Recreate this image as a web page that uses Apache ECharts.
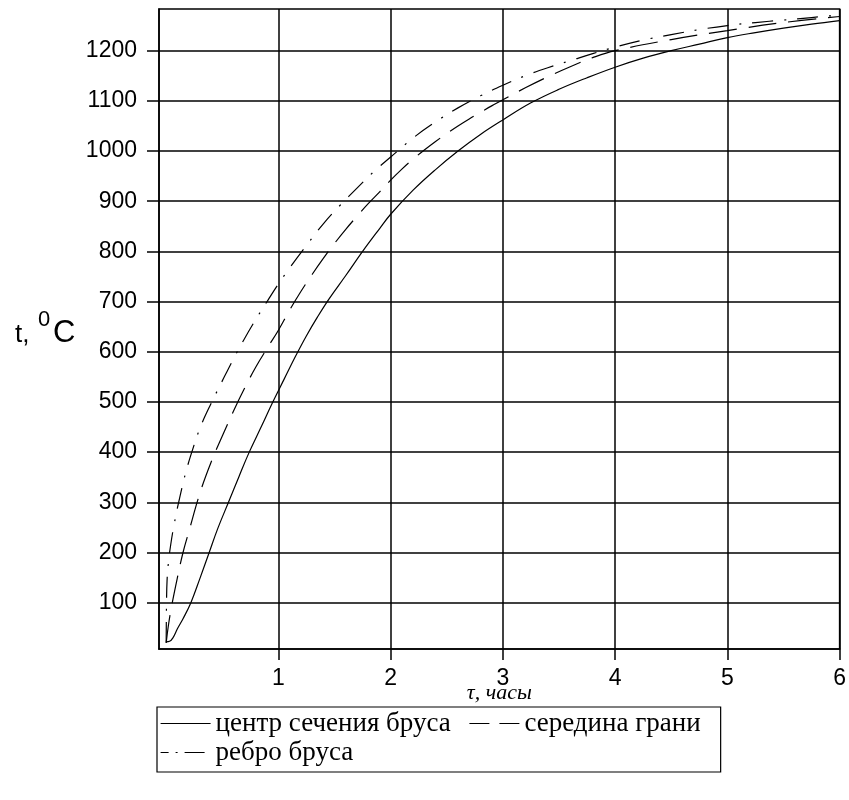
<!DOCTYPE html>
<html>
<head>
<meta charset="utf-8">
<script src="https://cdn.jsdelivr.net/npm/echarts@6/dist/echarts.min.js"></script>
<style>
html,body{margin:0;padding:0;background:#fff;}
#chart{width:849px;height:800px;}
</style>
</head>
<body>
<div id="chart"></div>
<script>
// ---- data ----
const xTicks = [1, 2, 3, 4, 5, 6];
const yTicks = [100, 200, 300, 400, 500, 600, 700, 800, 900, 1000, 1100, 1200];

// центр сечения бруса (solid)
const tauCenter = [0, 0.03, 0.06, 0.1, 0.15, 0.22, 0.3, 0.38, 0.46, 0.555, 0.65, 0.74, 0.85, 0.95, 1.05, 1.15, 1.25, 1.35, 1.45, 1.6, 1.75, 1.9, 2.0, 2.2, 2.4, 2.6, 2.8, 3.0, 3.25, 3.5, 3.75, 4.0, 4.25, 4.5, 4.75, 5.0, 5.25, 5.5, 5.75, 6.0];
const tCenter   = [22, 23, 30, 48, 68, 100, 148, 198, 248, 300, 352, 400, 452, 500, 545, 590, 632, 670, 705, 752, 800, 845, 874, 922, 963, 1000, 1033, 1062, 1096, 1123, 1146, 1167, 1185, 1200, 1213, 1226, 1236, 1245, 1253, 1260];

// середина грани (dashed)
const tauFace = [0, 0.02, 0.05, 0.1, 0.15, 0.2, 0.3, 0.4, 0.5, 0.6, 0.7, 0.8, 0.9, 1.0, 1.1, 1.2, 1.3, 1.4, 1.5, 1.6, 1.7, 1.8, 1.9, 2.0, 2.1, 2.2, 2.3, 2.4, 2.5, 2.6, 2.7, 2.8, 2.9, 3.0, 3.2, 3.4, 3.6, 3.8, 4.0, 4.5, 5.0, 5.5, 6.0];
const tFace   = [20, 55, 95, 150, 200, 240, 318, 380, 432, 482, 528, 570, 607, 643, 683, 720, 754, 786, 816, 844, 870, 895, 918, 942, 964, 984, 1002, 1019, 1035, 1050, 1064, 1077, 1090, 1102, 1126, 1148, 1168, 1186, 1200, 1222, 1240, 1256, 1268];

// ребро бруса (dash-dot)
const tauEdge = [0, 0.003, 0.008, 0.02, 0.04, 0.07, 0.12, 0.18, 0.25, 0.31, 0.4, 0.5, 0.6, 0.69, 0.8, 0.91, 1.0, 1.1, 1.25, 1.4, 1.55, 1.7, 1.85, 2.0, 2.2, 2.4, 2.6, 2.8, 3.0, 3.2, 3.4, 3.6, 3.8, 4.0, 4.25, 4.5, 4.75, 5.0, 5.25, 5.5, 5.75, 6.0];
const tEdge   = [20, 100, 145, 180, 215, 255, 309, 364, 415, 453, 497, 542, 586, 623, 665, 704, 735, 767, 812, 855, 892, 926, 959, 988, 1026, 1058, 1086, 1110, 1131, 1150, 1166, 1180, 1194, 1207, 1221, 1232, 1242, 1250, 1256, 1261, 1266, 1271];

const names = ['центр сечения бруса', 'середина грани', 'ребро бруса'];

function pairs(xs, ys) { return xs.map((x, i) => [x, ys[i]]); }

const tickFont = '"Liberation Sans", Arial, sans-serif';
const serif = '"Liberation Serif", "Times New Roman", serif';

const chart = echarts.init(document.getElementById('chart'), null, {renderer: 'canvas'});
const dashStyle = [28, 12];
const dashDotStyle = [21, 11, 2, 11];

chart.setOption({
  animation: false,
  backgroundColor: '#fff',
  grid: {left: 159, right: 3, top: 9, bottom: 151, show: true, borderColor: '#000', borderWidth: 1.5, backgroundColor: 'transparent'},
  xAxis: {
    type: 'value', min: -0.064, max: 6,
    name: 'τ, часы', nameLocation: 'middle', nameGap: 33, nameMoveOverlap: false,
    nameTextStyle: {fontFamily: serif, fontStyle: 'italic', fontSize: 22, color: '#000'},
    axisLine: {show: true, onZero: false, lineStyle: {color: '#000', width: 1.5}},
    axisTick: {show: true, customValues: xTicks, length: 11, inside: false, lineStyle: {color: '#000', width: 1.5}},
    axisLabel: {customValues: xTicks, margin: 18, fontFamily: tickFont, fontSize: 23, color: '#000', formatter: v => String(v)},
    splitLine: {show: true, lineStyle: {color: '#000', width: 1.5}}
  },
  yAxis: {
    type: 'value', min: 7.7, max: 1283,
    axisLine: {show: true, onZero: false, lineStyle: {color: '#000', width: 1.5}},
    axisTick: {show: true, customValues: yTicks, length: 12, inside: false, lineStyle: {color: '#000', width: 1.5}},
    axisLabel: {customValues: yTicks, margin: 22, fontFamily: tickFont, fontSize: 23, color: '#000', formatter: v => String(v)},
    splitLine: {show: true, lineStyle: {color: '#000', width: 1.5}}
  },
  legend: {
    left: 157, top: 707, width: 620,
    orient: 'horizontal',
    borderColor: '#000', borderWidth: 1.2, borderRadius: 0,
    padding: [3, 4, 6, 3],
    itemGap: 2, itemWidth: 50, itemHeight: 14,
    itemStyle: {opacity: 0},
    textStyle: {fontFamily: serif, fontSize: 27, lineHeight: 26, color: '#000', padding: [0, 16, 0, 0]},
    data: [
      {name: names[0], lineStyle: {type: 'solid', width: 1.2}},
      {name: names[1], lineStyle: {type: [20, 10], width: 1.2}},
      {name: names[2], lineStyle: {type: [20, 7, 2, 7], dashOffset: 12, width: 1.2}}
    ]
  },
  graphic: [
    {type: 'text', left: 15, top: 322, style: {text: 't,', font: '26px "Liberation Sans", Arial, sans-serif', fill: '#000'}},
    {type: 'text', left: 38, top: 309, style: {text: '0', font: '22px "Liberation Sans", Arial, sans-serif', fill: '#000'}},
    {type: 'text', left: 53, top: 318, style: {text: 'C', font: '31px "Liberation Sans", Arial, sans-serif', fill: '#000'}}
  ],
  series: [
    {name: names[0], type: 'line', data: pairs(tauCenter, tCenter), showSymbol: false, symbol: 'none', smooth: 0.4,
     lineStyle: {color: '#000', width: 1.2, type: 'solid'}, itemStyle: {color: '#000'}},
    {name: names[1], type: 'line', data: pairs(tauFace, tFace), showSymbol: false, symbol: 'none', smooth: 0.4,
     lineStyle: {color: '#000', width: 1.2, type: dashStyle}, itemStyle: {color: '#000'}},
    {name: names[2], type: 'line', data: pairs(tauEdge, tEdge), showSymbol: false, symbol: 'none', smooth: 0.4,
     lineStyle: {color: '#000', width: 1.2, type: dashDotStyle}, itemStyle: {color: '#000'}}
  ]
});
</script>
</body>
</html>
